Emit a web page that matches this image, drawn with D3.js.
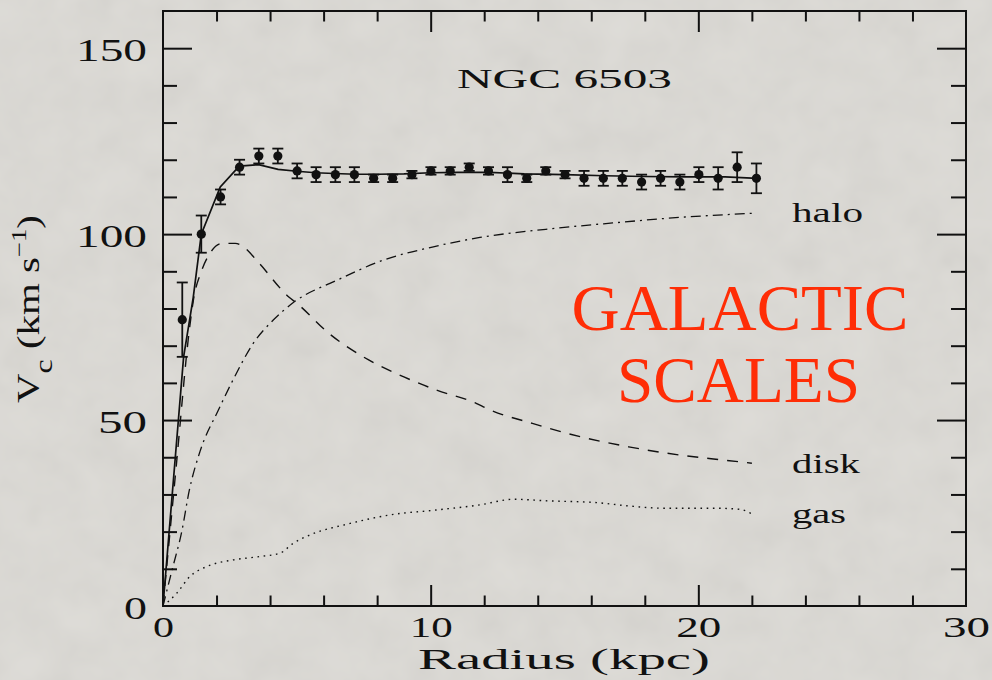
<!DOCTYPE html>
<html>
<head>
<meta charset="utf-8">
<script src="https://cdn.jsdelivr.net/npm/d3@7"></script>
<style>
  html, body { margin: 0; padding: 0; background: #dddbd6; }
  svg { display: block; }
</style>
</head>
<body>
<svg id="chart" width="992" height="680"></svg>
<script>
// NGC 6503 rotation curve: observed velocities and mass-model components

// observed points (radius in kpc, circular velocity and error in km/s)
const radius = [0.72, 1.43, 2.15, 2.86, 3.58, 4.29, 5.01, 5.72, 6.44, 7.15, 7.87,
                8.58, 9.30, 10.01, 10.73, 11.44, 12.16, 12.87, 13.59, 14.30, 15.02,
                15.73, 16.45, 17.16, 17.88, 18.59, 19.31, 20.02, 20.74, 21.45, 22.17];
const vObs = [77, 100, 110, 118, 121, 121, 117, 116, 116, 116, 115,
              115, 116, 117, 117, 118, 117, 116, 115, 117, 116,
              115, 115, 115, 114, 115, 114, 116, 115, 118, 115];
const vErr = [10, 5, 2, 2, 2, 2, 2, 2, 2, 2, 1,
              1, 1, 1, 1, 1, 1, 2, 1, 1, 1,
              2, 2, 2, 2, 2, 2, 2, 3, 4, 4];

// total model fit
const totalR = [0, 0.77, 1.13, 1.43, 2.14, 2.85, 3.57, 4.3, 5.0, 5.7, 6.4, 7.2, 8.0,
                9.0, 10.0, 11.0, 12.2, 13.5, 15.0, 16.5, 18.0, 19.5, 21.0, 22.2];
const totalV = [0, 67, 83, 100, 112.7, 118.3, 118.7, 117.4, 116.9, 116.5, 116.3, 116.1, 116.1,
                116.2, 116.5, 116.6, 116.6, 116.2, 116.0, 115.7, 115.5, 115.4, 115.4, 115.0];

// stellar disk
const diskR = [0, 0.5, 0.98, 1.13, 1.45, 1.75, 2.2, 2.7, 3.0, 3.6, 4.7, 5.0, 6.2,
               7.7, 9.0, 10.2, 11.7, 12.1, 13.8, 15.6, 17.4, 19.3, 21.0, 22.0];
const diskV = [0, 38, 74, 82, 90.3, 94.8, 97.5, 97.5, 96.6, 92.1, 83.1, 81.4, 73.3,
               66.1, 61.6, 58.1, 54.5, 53.1, 49.1, 45.5, 42.8, 40.6, 39.2, 38.4];

// dark halo
const haloR = [0, 0.35, 0.7, 0.98, 1.38, 2.07, 2.63, 3.37, 4.12, 4.87, 6.5, 8.23,
               10.1, 11.84, 14.3, 16.8, 19.3, 22.05];
const haloV = [0, 10, 20, 31, 41.5, 52.7, 61, 70.6, 76.9, 81.6, 87.6, 93,
               96.6, 99.1, 101.3, 103, 104.5, 105.6];

// neutral gas
const gasR = [0, 0.51, 1.0, 1.63, 2.63, 3.62, 4.37, 4.87, 5.49, 6.99, 8.48, 10.2,
              11.84, 13.1, 14.3, 16.2, 17.4, 18.7, 20.6, 21.55, 22.05];
const gasV = [0, 3.4, 7.9, 10.6, 12.4, 13.3, 14.2, 16.9, 19.1, 22.2, 24.5, 25.8,
              27.2, 28.7, 28.3, 27.8, 26.9, 26.3, 26.3, 26.0, 24.5];

const xTickLabels = [0, 10, 20, 30];
const yTickLabels = [0, 50, 100, 150];
const xMinorTicks = d3.range(2, 30, 2);
const yMinorTicks = d3.range(10, 160, 10);

const INK = "#111";
const SERIF = "Liberation Serif";

const svg = d3.select("#chart");

// paper-like background with a soft mottled grain
const defs = svg.append("defs");
const grain = defs.append("filter").attr("id", "grain")
  .attr("x", 0).attr("y", 0).attr("width", "100%").attr("height", "100%");
grain.append("feTurbulence").attr("type", "fractalNoise")
  .attr("baseFrequency", 0.025).attr("numOctaves", 3).attr("seed", 4);
grain.append("feColorMatrix").attr("type", "matrix")
  .attr("values", "0.33 0.33 0.33 0 0  0.33 0.33 0.33 0 0  0.33 0.33 0.33 0 0  0 0 0 0 0.10");

svg.append("rect").attr("width", 992).attr("height", 680).attr("fill", "#dddbd6");
svg.append("rect").attr("width", 992).attr("height", 680).attr("filter", "url(#grain)");

const plotLeft = 163, plotRight = 966, plotTop = 11, plotBottom = 606;
const x = d3.scaleLinear().domain([0, 30]).range([plotLeft, plotRight]);
const y = d3.scaleLinear().domain([0, 160]).range([plotBottom, plotTop]);

// inward-pointing ticks on all four sides
function tickGroup(axis, tx, ty) {
  const g = svg.append("g").attr("transform", `translate(${tx},${ty})`).call(axis);
  g.select(".domain").remove();
  g.selectAll("line").attr("stroke", INK).attr("stroke-width", 2);
  g.selectAll("text").remove();
  return g;
}
const notMajorY = yMinorTicks.filter(v => v % 50 !== 0);
const notMajorX = xMinorTicks.filter(v => v % 10 !== 0);

tickGroup(d3.axisLeft(y).tickValues(yTickLabels.slice(1)).tickSize(-29), plotLeft, 0);
tickGroup(d3.axisLeft(y).tickValues(notMajorY).tickSize(-14), plotLeft, 0);
tickGroup(d3.axisRight(y).tickValues(yTickLabels.slice(1)).tickSize(-29), plotRight, 0);
tickGroup(d3.axisRight(y).tickValues(notMajorY).tickSize(-15), plotRight, 0);
tickGroup(d3.axisBottom(x).tickValues([10, 20]).tickSize(-21), 0, plotBottom);
tickGroup(d3.axisBottom(x).tickValues(notMajorX).tickSize(-10.5), 0, plotBottom);
tickGroup(d3.axisTop(x).tickValues([10, 20]).tickSize(-21), 0, plotTop);
tickGroup(d3.axisTop(x).tickValues(notMajorX).tickSize(-10.5), 0, plotTop);

// frame
svg.append("rect")
  .attr("x", plotLeft).attr("y", plotTop)
  .attr("width", plotRight - plotLeft).attr("height", plotBottom - plotTop)
  .attr("fill", "none").attr("stroke", INK).attr("stroke-width", 2);

// tick labels, placed by the axes and then restyled
const yLabelWidth = { 0: 23, 50: 49, 100: 71, 150: 71 };
const yAxisLab = svg.append("g").attr("transform", `translate(${plotLeft},0)`)
  .call(d3.axisLeft(y).tickValues(yTickLabels).tickSize(0).tickPadding(16));
yAxisLab.select(".domain").remove();
yAxisLab.attr("font-family", null).attr("font-size", null);
yAxisLab.selectAll("text")
  .attr("dy", null).attr("y", 12)
  .style("font-family", SERIF).style("font-size", "31px").attr("fill", INK)
  .attr("textLength", d => yLabelWidth[d]).attr("lengthAdjust", "spacingAndGlyphs");

const xLabelWidth = { 0: 21, 10: 43, 20: 45, 30: 47 };
const xAxisLab = svg.append("g").attr("transform", `translate(0,${plotBottom})`)
  .call(d3.axisBottom(x).tickValues(xTickLabels).tickSize(0));
xAxisLab.select(".domain").remove();
xAxisLab.attr("font-family", null).attr("font-size", null);
xAxisLab.selectAll("text")
  .attr("dy", null).attr("y", 30.5)
  .style("font-family", SERIF).style("font-size", "30px").attr("fill", INK)
  .attr("textLength", d => xLabelWidth[d]).attr("lengthAdjust", "spacingAndGlyphs");

// axis titles
svg.append("text")
  .attr("x", 418).attr("y", 669)
  .style("font-family", SERIF).style("font-size", "30px").attr("fill", INK)
  .attr("textLength", 292).attr("lengthAdjust", "spacingAndGlyphs")
  .text("Radius (kpc)");

const yTitleG = svg.append("g").attr("transform", "translate(39,403) rotate(-90)");
const yTitle = yTitleG.append("text")
  .style("font-family", SERIF).style("font-size", "32px").attr("fill", INK);
yTitle.append("tspan").text("V");
yTitle.append("tspan").style("font-size", "25px").attr("dy", 13).text("c");
yTitle.append("tspan").attr("dy", -13).text("\u00a0(km s");
yTitle.append("tspan").style("font-size", "21px").attr("dy", -13).text("\u22121");
yTitle.append("tspan").attr("dy", 13).text(")");
{
  const w = yTitle.node().getComputedTextLength();
  yTitle.attr("transform", `scale(${188 / w},1)`);
}

// plot title
svg.append("text")
  .attr("x", 457).attr("y", 88)
  .style("font-family", SERIF).style("font-size", "26.5px").attr("fill", INK)
  .attr("textLength", 215).attr("lengthAdjust", "spacingAndGlyphs")
  .text("NGC 6503");

// model curves
const line = d3.line().x(d => x(d[0])).y(d => y(d[1]));
const zipped = (rs, vs) => rs.map((r, i) => [r, vs[i]]);

svg.append("path").datum(zipped(haloR, haloV))
  .attr("d", line.curve(d3.curveMonotoneX))
  .attr("fill", "none").attr("stroke", INK).attr("stroke-width", 1.3)
  .attr("stroke-dasharray", "10,5,2,5");

svg.append("path").datum(zipped(diskR, diskV))
  .attr("d", line.curve(d3.curveMonotoneX))
  .attr("fill", "none").attr("stroke", INK).attr("stroke-width", 1.4)
  .attr("stroke-dasharray", "11,9");

svg.append("path").datum(zipped(gasR, gasV))
  .attr("d", line.curve(d3.curveMonotoneX))
  .attr("fill", "none").attr("stroke", INK).attr("stroke-width", 1.4)
  .attr("stroke-dasharray", "1.6,4.6");

svg.append("path").datum(zipped(totalR, totalV))
  .attr("d", line.curve(d3.curveLinear))
  .attr("fill", "none").attr("stroke", INK).attr("stroke-width", 1.7);

// component labels
const compLabels = [
  { text: "halo", yb: 222, w: 71 },
  { text: "disk", yb: 473, w: 68 },
  { text: "gas", yb: 522.5, w: 54 }
];
svg.selectAll(".comp").data(compLabels).join("text")
  .attr("class", "comp")
  .attr("x", 792).attr("y", d => d.yb)
  .style("font-family", SERIF).style("font-size", "26.5px").attr("fill", INK)
  .attr("textLength", d => d.w).attr("lengthAdjust", "spacingAndGlyphs")
  .text(d => d.text);

// observed points with error bars
const obs = radius.map((r, i) => ({ r, v: vObs[i], e: vErr[i] }));
const pts = svg.append("g").selectAll("g").data(obs).join("g");
pts.append("line")
  .attr("x1", d => x(d.r)).attr("x2", d => x(d.r))
  .attr("y1", d => y(d.v - d.e)).attr("y2", d => y(d.v + d.e))
  .attr("stroke", INK).attr("stroke-width", 1.8);
pts.append("line")
  .attr("x1", d => x(d.r) - 5.5).attr("x2", d => x(d.r) + 5.5)
  .attr("y1", d => y(d.v + d.e)).attr("y2", d => y(d.v + d.e))
  .attr("stroke", INK).attr("stroke-width", 1.8);
pts.append("line")
  .attr("x1", d => x(d.r) - 5.5).attr("x2", d => x(d.r) + 5.5)
  .attr("y1", d => y(d.v - d.e)).attr("y2", d => y(d.v - d.e))
  .attr("stroke", INK).attr("stroke-width", 1.8);
pts.append("circle")
  .attr("cx", d => x(d.r)).attr("cy", d => y(d.v)).attr("r", 4.6)
  .attr("fill", INK);

// headline
const headline = svg.append("g").attr("fill", "#ff2d06");
headline.append("text").attr("x", 740).attr("y", 329.5)
  .style("font-family", SERIF).style("font-size", "66px").attr("text-anchor", "middle")
  .attr("textLength", 337).attr("lengthAdjust", "spacingAndGlyphs").text("GALACTIC");
headline.append("text").attr("x", 738.5).attr("y", 402)
  .style("font-family", SERIF).style("font-size", "66px").attr("text-anchor", "middle")
  .attr("textLength", 243).attr("lengthAdjust", "spacingAndGlyphs").text("SCALES");
</script>
</body>
</html>
